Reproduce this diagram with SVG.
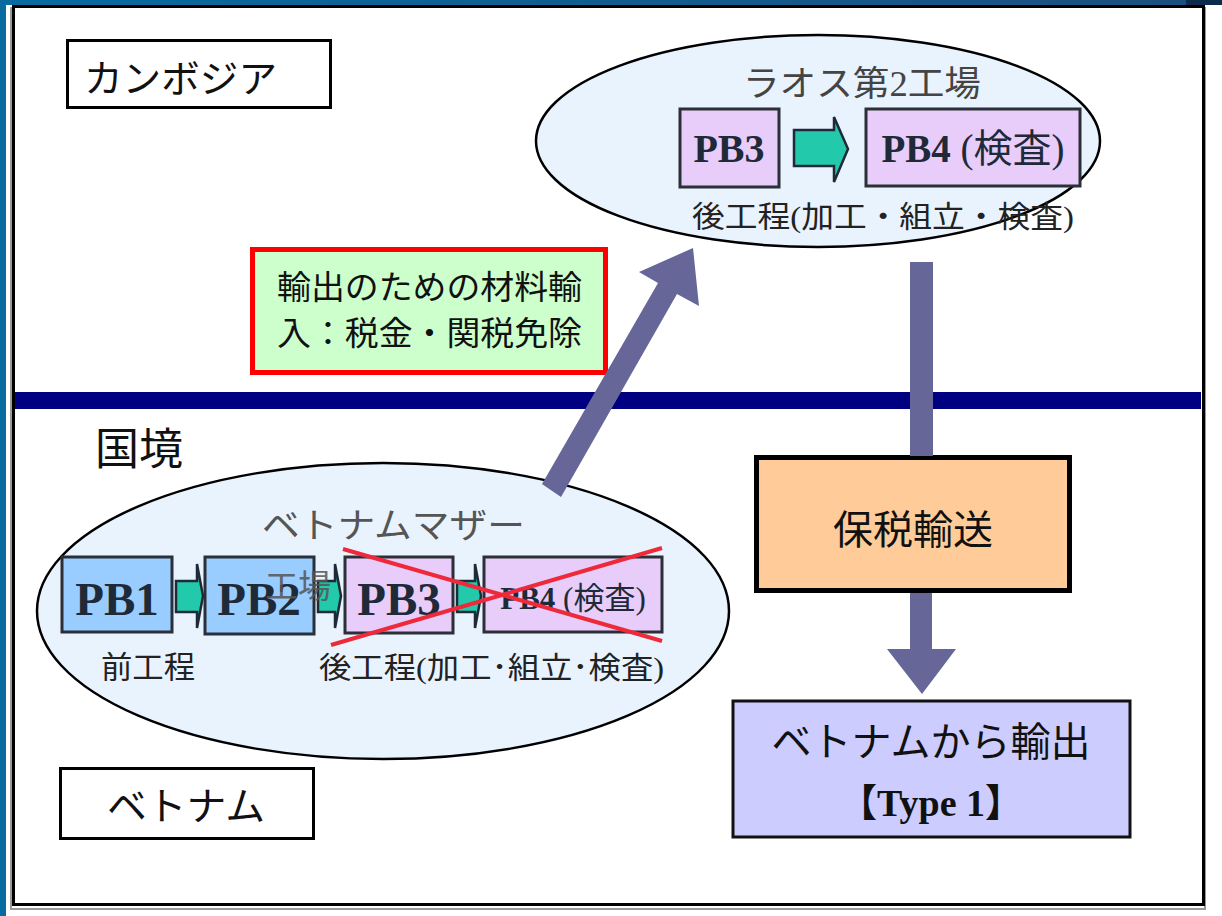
<svg xmlns="http://www.w3.org/2000/svg" width="1222" height="916" viewBox="0 0 1222 916">
<defs>
<linearGradient id="topbar" x1="0" y1="0" x2="1" y2="0">
<stop offset="0" stop-color="#086ba0"/>
<stop offset="0.97" stop-color="#1a5080"/>
<stop offset="0.971" stop-color="#0c2a4c"/>
<stop offset="1" stop-color="#0c2a4c"/>
</linearGradient>
<style>
.jp{font-family:"Liberation Serif","Noto Sans CJK JP",serif;}
.pb{font-family:"Liberation Serif","Noto Sans CJK JP",serif;font-weight:bold;fill:#1e2a38;}
.box{stroke:#2b2f36;stroke-width:3;}
.blue{fill:#99ccff;}
.lav{fill:#e8ccfa;}
.garrow{fill:#22c9aa;stroke:#1e2a38;stroke-width:2.5;stroke-linejoin:miter;}
.ell{fill:#e8f3fe;stroke:#000;stroke-width:2.5;}
.big{fill:#666699;}
</style>
</defs>
<rect x="0" y="0" width="1222" height="916" fill="#ffffff"/>
<rect x="0" y="0" width="1222" height="5" fill="url(#topbar)"/>
<rect x="0" y="0" width="6" height="916" fill="#086ba0"/>
<!-- frame -->
<rect x="11" y="8" width="1194" height="901" fill="none" stroke="#9a9a9a" stroke-width="2"/>
<rect x="13.5" y="6.5" width="1190" height="898" fill="#ffffff" stroke="#000" stroke-width="3"/>
<!-- border line -->
<rect id="border-line" x="15" y="392" width="1186" height="17" fill="#000080"/>
<g id="kokkyo"><text x="95" y="465" class="jp" font-size="44" fill="#111">国境</text></g>
<g id="cambodia">
<rect x="67.5" y="40.5" width="263" height="67" fill="#fff" stroke="#000" stroke-width="3"/>
<text x="84" y="92" class="jp" font-size="38" fill="#111" textLength="193" lengthAdjust="spacingAndGlyphs">カンボジア</text>
</g>
<g id="vietnam">
<rect x="60.5" y="768.5" width="253" height="70" fill="#fff" stroke="#000" stroke-width="3"/>
<text x="107" y="820" class="jp" font-size="39" fill="#111" textLength="158" lengthAdjust="spacingAndGlyphs">ベトナム</text>
</g>
<!-- Laos factory -->
<g id="laos-factory">
<ellipse cx="818" cy="141" rx="282" ry="106" class="ell"/>
<text x="743" y="96" class="jp" font-size="35" fill="#444" textLength="238" lengthAdjust="spacingAndGlyphs">ラオス第2工場</text>
<rect x="680" y="109" width="99" height="78" class="box lav"/>
<text x="729" y="162" class="pb" font-size="40" text-anchor="middle">PB3</text>
<path d="M794,130 L834,130 L834,117 L848,149 L834,182 L834,166 L794,166 Z" class="garrow"/>
<rect x="866" y="109" width="214" height="77" class="box lav"/>
<text x="973" y="162" font-size="39" text-anchor="middle" fill="#1e2a38"><tspan class="pb">PB4 </tspan><tspan class="jp">(検査)</tspan></text>
<text x="692" y="227" class="jp" font-size="30" fill="#222" textLength="382" lengthAdjust="spacingAndGlyphs">後工程(加工・組立・検査)</text>
</g>
<!-- Vietnam mother factory -->
<g id="vietnam-factory">
<ellipse cx="383" cy="611" rx="346" ry="148" class="ell"/>
<rect x="62" y="557" width="110" height="75" class="box blue"/>
<text x="117" y="615" class="pb" font-size="47" text-anchor="middle">PB1</text>
<path d="M176,581 L197,581 L197,564 L203,596 L197,628 L197,612 L176,612 Z" class="garrow"/>
<rect x="205" y="557" width="109" height="77" class="box blue"/>
<text x="259" y="615" class="pb" font-size="47" text-anchor="middle">PB2</text>
<path d="M318,581 L335,581 L335,564 L341,596 L335,628 L335,612 L318,612 Z" class="garrow"/>
<rect x="345" y="557" width="108" height="76" class="box lav"/>
<text x="399" y="615" class="pb" font-size="47" text-anchor="middle">PB3</text>
<path d="M457,581 L475,581 L475,564 L481,596 L475,628 L475,612 L457,612 Z" class="garrow"/>
<rect x="484" y="557" width="178" height="75" class="box lav"/>
<text x="573" y="609" font-size="31" text-anchor="middle" fill="#1e2a38"><tspan class="pb">PB4 </tspan><tspan class="jp">(検査)</tspan></text>
<text x="262" y="538" class="jp" font-size="35" fill="#555" textLength="263" lengthAdjust="spacingAndGlyphs">ベトナムマザー</text>
<text x="298" y="598" class="jp" font-size="33" fill="#555" text-anchor="middle" opacity="0.85">工場</text>
<line x1="343" y1="549" x2="662" y2="641" stroke="#ee2a3a" stroke-width="4"/>
<line x1="331" y1="645" x2="662" y2="548" stroke="#ee2a3a" stroke-width="4"/>
<text x="101" y="678" class="jp" font-size="31" fill="#222" textLength="94" lengthAdjust="spacingAndGlyphs">前工程</text>
<text x="319" y="678" class="jp" font-size="30" fill="#222" textLength="345" lengthAdjust="spacingAndGlyphs">後工程(加工･組立･検査)</text>
</g>
<!-- note box -->
<g id="note">
<rect x="252.5" y="249.5" width="353" height="123" fill="#ccffcc" stroke="#ff0000" stroke-width="5"/>
<text x="277" y="299" class="jp" font-size="33" fill="#111" textLength="305" lengthAdjust="spacingAndGlyphs">輸出のための材料輸</text>
<text x="277" y="345" class="jp" font-size="33" fill="#111" textLength="305" lengthAdjust="spacingAndGlyphs">入：税金・関税免除</text>
</g>
<!-- bonded transport -->
<g id="bonded">
<rect x="756.5" y="457.5" width="313" height="133" fill="#ffcc99" stroke="#000" stroke-width="5"/>
<text x="913" y="544" class="jp" font-size="40" fill="#111" text-anchor="middle">保税輸送</text>
</g>
<!-- export box -->
<g id="export">
<rect x="733" y="701" width="397" height="136" fill="#ccccff" stroke="#111" stroke-width="3"/>
<text x="931" y="756" class="jp" font-size="40" fill="#111" text-anchor="middle">ベトナムから輸出</text>
<text x="931" y="816" class="jp" font-size="38" font-weight="bold" fill="#111" text-anchor="middle">【Type 1】</text>
</g>
<!-- connectors -->
<g id="connectors">
<polygon class="big" points="542,484 658,283 639,272 693,248 699,306 677,294 561,497"/>
<rect class="big" x="910" y="262" width="23" height="194"/>
<polygon class="big" points="910,593 932,593 932,649 956,649 922,694 887,649 910,649"/>
</g>
</svg>
